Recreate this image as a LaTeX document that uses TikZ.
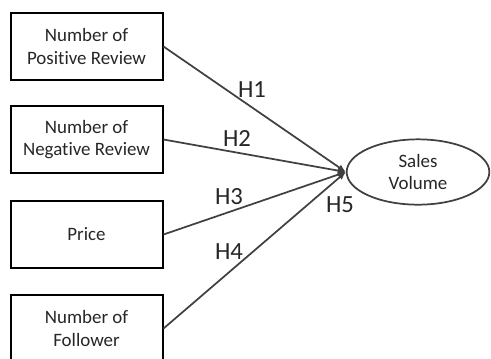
\documentclass[tikz,border=0pt]{standalone}
\usepackage{fontspec}
\setmainfont{Carlito}[Ligatures={NoCommon}]
\usepackage{xcolor}
\usetikzlibrary{shapes.geometric,arrows.meta}
\definecolor{linegray}{HTML}{404040}
\definecolor{textgray}{HTML}{262626}

\begin{document}
\begin{tikzpicture}[x=0.75pt,y=-0.75pt,
        factor/.style={draw=black,line width=1.5pt,minimum width=114pt,minimum height=50pt,
            align=center,font=\fontsize{14.2}{17}\selectfont,text=textgray,inner sep=0pt},
        target/.style={ellipse,draw=linegray,line width=1.3pt,minimum width=107pt,minimum height=49pt,
            align=center,font=\fontsize{14.2}{17}\selectfont,text=textgray,inner sep=0pt},
        hyp/.style={draw=linegray,line width=1.3pt,-{Latex[length=6pt,width=5pt]}},
        hlabel/.style={font=\fontsize{18.5}{20}\selectfont,text=textgray}]
        \useasboundingbox (0,0) rectangle (491,358);
        \clip (0,0) rectangle (491,358);

        % factors
        \node[factor] (pos) at (86.5,46.5) {Number of\\Positive Review};
        \node[factor] (neg) at (86.5,139.5) {Number of\\Negative Review};
        \node[factor] (price) at (86.5,234.5) {Price};
        \node[factor] (fol) at (86.5,328.5) {Number of\\Follower};

        % outcome
        \node[target] (sales) at (418,172) {Sales\\Volume};

        \draw[hyp] (pos.east) -- (sales.west); % H1
        \draw[hyp] (neg.east) -- (sales.west); % H2
        \draw[hyp] (price.east) -- (sales.west); % H3
        \draw[hyp] (fol.east) -- (sales.west); % H4

        \node[hlabel] (h1) at (252,90) {H1};
        \node[hlabel] (h2) at (237,138) {H2};
        \node[hlabel] (h3) at (229,197) {H3};
        \node[hlabel] (h4) at (229,252) {H4};
        \node[hlabel] (h5) at (340,205) {H5};
    \end{tikzpicture}
\end{document}
